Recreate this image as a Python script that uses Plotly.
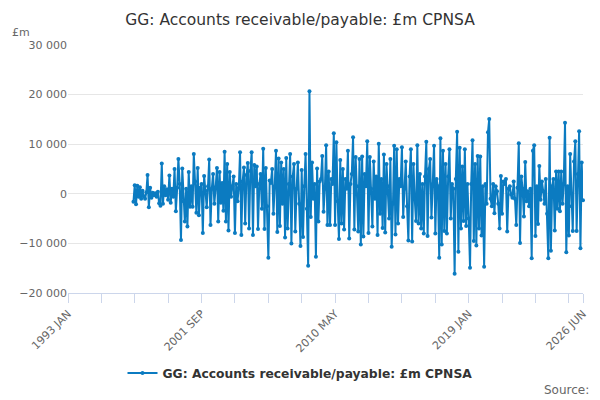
import pandas as pd
import plotly.graph_objects as go

title = "GG: Accounts receivable/payable: £m CPNSA"

# monthly values, £m (1997 APR .. 2026 JUN)
v1997 = [-1600, 1700, -2100, 1600, -600, 1300, -1000, 600, -500]
v1998 = [-1000, 300, 3800, -2700, 1200, -800, 200, -300, 100, -600, 400, -1900]
v1999 = [-2400, 6100, -2000, 1500, -300, 900, -1200, 3700, -1800, 1000, -600, 5000]
v2000 = [-3500, 1200, 7000, 2000, -9300, 5100, -1500, -5600, 1000, -6600, 4400, -2600]
v2001 = [1500, -2600, 8000, 2500, -3800, 5200, -4300, 1200, 2000, -7900, 3600, 600]
v2002 = [-2700, 1500, 6900, -6300, 1000, 4000, -2000, 1300, 5200, -5600, 4400, -1800]
v2003 = [2200, -3400, 8500, -5600, 6000, -7400, 4400, -600, 1500, 3500, -7900, 2000]
v2004 = [-1500, 1200, 8400, -8300, 2500, 5300, -6000, 3800, 6200, -7000, 4600, 8400]
v2005 = [-8300, 5800, 1500, 5500, -7100, 2000, 4000, -3000, 9100, -7100, 5200, -2500]
v2006 = [-12900, 2700, 2200, 5000, -4000, 1500, 8700, -7700, 7100, -6500, 6300, -2000]
v2007 = [5000, -8800, 7200, -7000, 2000, 8000, -10000, 3500, 6000, -7600, 1000, 6300]
v2008 = [-2000, -10500, 4800, -8700, 1500, 8000, -3000, -14500, 20700, -4700, 6300, -1000]
v2009 = [2000, -12700, 5100, -5600, 2500, 3000, 7600, -3600, 1000, 9800, -6300, 4500]
v2010 = [-6300, 3000, 2000, 12200, -6300, 10400, -1500, -9100, 6800, -6000, 5000, -7200]
v2011 = [3000, 1000, 8700, -9000, 2000, 4000, 11400, -7200, 7400, 1500, -7600, 7000]
v2012 = [-10200, 7500, -8600, 4000, 1500, 10600, -7900, 7400, 1000, -6600, 6500, -1000]
v2013 = [3500, -8300, 10100, -4000, 3000, -6900, 7900, -7800, 6000, 1500, -5000, 7000]
v2014 = [-10700, -2000, 9700, -8200, 9000, -6000, 3000, 1500, 9400, -4700, 1000, 6500]
v2015 = [-2500, -9400, 3500, 9000, -9600, 6000, -1000, -5500, 9800, -6000, 4000, -7000]
v2016 = [2000, -8000, 3500, 10500, -8500, 5000, 7000, -4800, 2000, 9700, -8000, 3000]
v2017 = [1500, -12900, 11200, -10200, 8700, -7500, 6000, -8000, 3500, 9000, -5000, 2000]
v2018 = [1000, -16100, 3000, 12500, -11700, 9300, -7000, 5500, -5500, 9000, -6500, 2000]
v2019 = [-5000, -14900, 2000, 10800, -9500, 6000, -10400, 7600, -7000, 7500, -8400, 1500]
v2020 = [-14700, 2000, -2000, 12400, 15100, -1000, -2500, 2000, -3900, 1500, 500, -2000]
v2021 = [-7000, 3600, -4000, 2500, 2000, 3000, -7600, 1000, 1500, -200, -800, 2500]
v2022 = [-1000, -6300, 1200, 10200, -9900, 3500, 1000, -4600, 6400, -1500, 500, -2500]
v2023 = [1000, -13000, 8700, 9800, -8500, 1500, -6100, 5600, -1200, 2500, 500, -2000]
v2024 = [3000, -4000, -13000, 11300, -11500, 1500, 3000, -7400, 4500, -3000, 4500, -3500]
v2025 = [4500, -2000, 2000, 14300, -11800, 1500, -8400, 8000, -2500, -7500, 6500, 10600]
v2026 = [-7500, 4000, 12600, -11000, 6300, -1300]

values = (v1997 + v1998 + v1999 + v2000 + v2001 + v2002 + v2003 + v2004 + v2005
          + v2006 + v2007 + v2008 + v2009 + v2010 + v2011 + v2012 + v2013 + v2014
          + v2015 + v2016 + v2017 + v2018 + v2019 + v2020 + v2021 + v2022 + v2023
          + v2024 + v2025 + v2026)
months = pd.date_range("1997-04-01", periods=len(values), freq="MS")

tick_dates = ["1993-01-01", "2001-09-01", "2010-05-01", "2019-01-01", "2026-06-01"]
tick_labels = ["1993 JAN", "2001 SEP", "2010 MAY", "2019 JAN", "2026 JUN"]
minor_dates = pd.date_range("1993-01-01", "2026-06-01", freq="26MS")

blue = "#0b7bc1"
grey = "#666666"
axis_col = "#ccd6eb"

fig = go.Figure()
fig.add_trace(go.Scatter(
    x=months, y=values, name=title, mode="lines+markers",
    line=dict(color=blue, width=2),
    marker=dict(color=blue, size=4),
    cliponaxis=False,
))

fig.update_layout(
    width=600, height=400,
    margin=dict(l=68, r=17, t=45, b=107, autoexpand=False),
    paper_bgcolor="white", plot_bgcolor="white",
    font=dict(family="DejaVu Sans", color=grey, size=11),
    separators=". ",
    title=dict(text=title, x=0.5, xanchor="center", y=0.95, yanchor="middle",
               font=dict(size=15.5, color="#333333")),
    showlegend=True,
    legend=dict(orientation="h", xref="container", x=0.5, xanchor="center",
                yref="container", y=0.0675, yanchor="middle",
                font=dict(size=12.3, color="#333333", weight="bold")),
)

fig.update_xaxes(
    type="date", range=["1993-01-01", "2026-06-01"], automargin=False,
    tickmode="array", tickvals=tick_dates, ticktext=tick_labels, tickangle=-45,
    showgrid=False, showline=True, linecolor=axis_col, linewidth=1,
    ticks="outside", ticklen=9, tickcolor=axis_col,
    minor=dict(tickmode="array", tickvals=list(minor_dates), ticks="outside",
               ticklen=9, tickcolor=axis_col, showgrid=False),
    tickfont=dict(size=11, color=grey),
)
fig.update_yaxes(
    range=[-20000, 30000], tickvals=[-20000, -10000, 0, 10000, 20000, 30000],
    tickformat=",d", showgrid=True, gridcolor="#e6e6e6", zeroline=False,
    tickfont=dict(size=11, color=grey), ticks="", showline=False, automargin=False,
)

fig.add_annotation(text="£m", xref="paper", yref="paper", x=-0.113, y=1.052,
                   xanchor="left", yanchor="middle", showarrow=False,
                   font=dict(size=11, color=grey))
fig.add_annotation(text="Source:", xref="paper", yref="paper", x=1.0, xshift=8,
                   y=-0.391, xanchor="right", yanchor="middle", showarrow=False,
                   font=dict(size=12, color=grey))

fig.write_html("out.html", config={"displayModeBar": False},
               post_script="document.body.style.margin='0px';")
